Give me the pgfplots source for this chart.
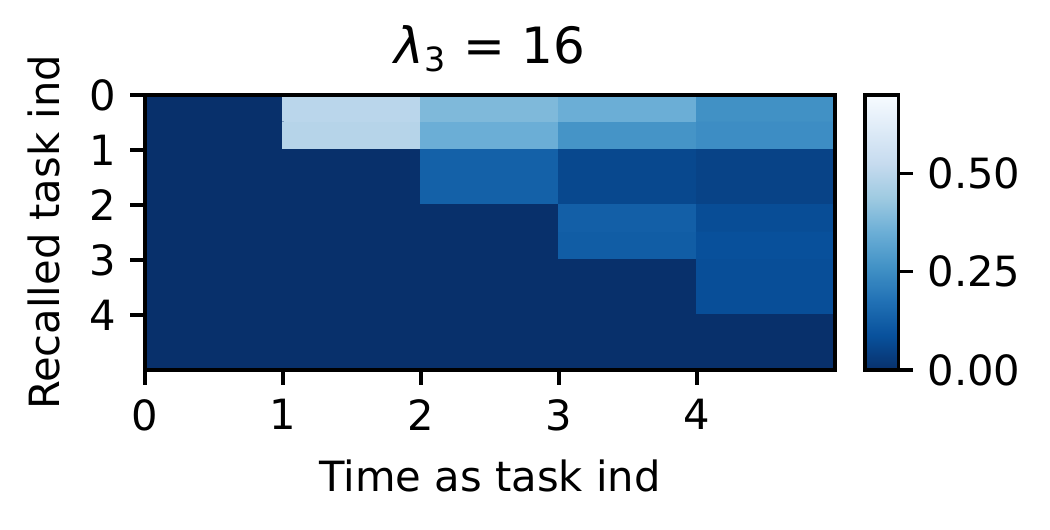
\documentclass[border=0pt]{standalone}
\usepackage{fontspec}
\setmainfont{DejaVu Sans}
\usepackage{pgfplots}
\pgfplotsset{compat=1.18}

% Blues_r, recall share of each task over time
\pgfplotstableread{
x y c
0.5 0.25 0
1.5 0.25 0.50
2.5 0.25 0.385
3.5 0.25 0.35
4.5 0.25 0.26
0.5 0.75 0
1.5 0.75 0.49
2.5 0.75 0.35
3.5 0.75 0.27
4.5 0.75 0.25
0.5 1.25 0
1.5 1.25 0
2.5 1.25 0.13
3.5 1.25 0.063
4.5 1.25 0.05
0.5 1.75 0
1.5 1.75 0
2.5 1.75 0.13
3.5 1.75 0.063
4.5 1.75 0.05
0.5 2.25 0
1.5 2.25 0
2.5 2.25 0
3.5 2.25 0.126
4.5 2.25 0.077
0.5 2.75 0
1.5 2.75 0
2.5 2.75 0
3.5 2.75 0.12
4.5 2.75 0.085
0.5 3.25 0
1.5 3.25 0
2.5 3.25 0
3.5 3.25 0
4.5 3.25 0.08
0.5 3.75 0
1.5 3.75 0
2.5 3.75 0
3.5 3.75 0
4.5 3.75 0.08
0.5 4.25 0
1.5 4.25 0
2.5 4.25 0
3.5 4.25 0
4.5 4.25 0
0.5 4.75 0
1.5 4.75 0
2.5 4.75 0
3.5 4.75 0
4.5 4.75 0
}\recall

\begin{document}
\begin{tikzpicture}
\path (-34.8pt,-38.4pt) rectangle (217.2pt,88.8pt);
\begin{axis}[
  at={(0,0)}, anchor=south west,
  scale only axis, width=165.6pt, height=66pt,
  xmin=0, xmax=5, ymin=0, ymax=5, y dir=reverse,
  enlargelimits=false, axis on top,
  xtick={0,1,2,3,4}, ytick={0,1,2,3,4},
  xtick pos=bottom, ytick pos=left,
  tick align=outside, major tick length=3.5pt,
  every tick/.style={black, line width=0.8pt},
  axis line style={line width=0.8pt},
  /pgf/number format/assume math mode=true,
  tick label style={font=\fontsize{10}{12}\selectfont},
  xlabel={Time as task ind}, ylabel={Recalled task ind},
  label style={font=\fontsize{10}{12}\selectfont},
  title={{\itshape λ}\textsubscript{3} = 16},
  title style={font=\fontsize{12}{14}\selectfont, yshift=-4pt},
  colormap={bluesr}{rgb255=(8,48,107) rgb255=(8,81,156) rgb255=(33,113,181)
    rgb255=(66,146,198) rgb255=(107,174,214) rgb255=(158,202,225)
    rgb255=(198,219,239) rgb255=(222,235,247) rgb255=(247,251,255)},
  point meta min=0, point meta max=0.70,
  colorbar,
  colorbar shift/.style={},
  colorbar style={
    at={(parent axis.north east)}, anchor=north west, xshift=7.2pt,
    width=8pt,
    ytick={0,0.25,0.5}, ytick pos=right,
    yticklabel style={font=\fontsize{10}{12}\selectfont,
      /pgf/number format/fixed, /pgf/number format/fixed zerofill,
      /pgf/number format/precision=2},
    /pgf/number format/assume math mode=true,
    tick align=outside, major tick length=3.5pt,
    every tick/.style={black, line width=0.8pt},
    axis line style={line width=0.8pt},
  },
]
\addplot[matrix plot*, mesh/cols=5, point meta=explicit] table[x=x, y=y, meta=c] {\recall};
\end{axis}
\end{tikzpicture}
\end{document}
